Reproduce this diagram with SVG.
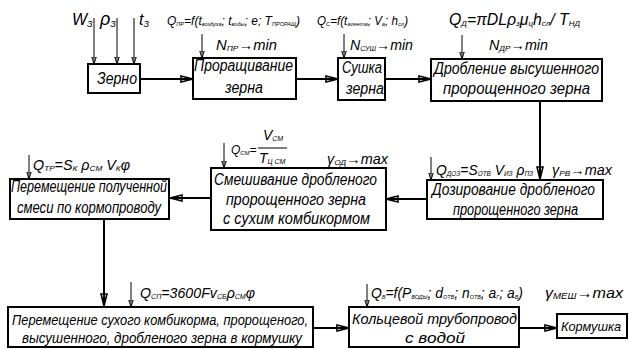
<svg xmlns="http://www.w3.org/2000/svg" width="629" height="349" viewBox="0 0 629 349">
<style>
.box{fill:#fff;stroke:#000;stroke-width:2}
.t{font-family:"Liberation Sans",Arial,sans-serif;font-style:italic;font-size:16px;fill:#000}
.p{font-family:"Liberation Sans",Arial,sans-serif;font-style:italic;fill:#000}
.main{fill:none;stroke:#000;stroke-width:2}
.thin{fill:none;stroke:#000;stroke-width:1}
</style>
<defs>
<marker id="big" viewBox="0 0 14 8" refX="13" refY="4" markerWidth="14" markerHeight="8" markerUnits="userSpaceOnUse" orient="auto">
<path d="M1,1 L13,4 L1,7 Z M1,4 L13,4" fill="none" stroke="#000" stroke-width="1.6"/>
</marker>
<marker id="sm" viewBox="0 0 8 6" refX="7.5" refY="3" markerWidth="8" markerHeight="6" markerUnits="userSpaceOnUse" orient="auto">
<path d="M0.5,0.8 L7.5,3 L0.5,5.2 Z" fill="none" stroke="#000" stroke-width="1"/>
</marker>
</defs>
<rect width="629" height="349" fill="#fff"/>

<g id="connectors">
<line class="main" x1="140" y1="79" x2="193" y2="79" marker-end="url(#big)"/>
<line class="main" x1="296" y1="79" x2="338" y2="79" marker-end="url(#big)"/>
<line class="main" x1="385" y1="79" x2="431" y2="79" marker-end="url(#big)"/>
<line class="main" x1="540" y1="101" x2="540" y2="179" marker-end="url(#big)"/>
<line class="main" x1="427" y1="199" x2="386" y2="199" marker-end="url(#big)"/>
<line class="main" x1="211" y1="198" x2="170" y2="198" marker-end="url(#big)"/>
<line class="main" x1="104" y1="219" x2="104" y2="306" marker-end="url(#big)"/>
<line class="main" x1="313" y1="328" x2="349" y2="328" marker-end="url(#big)"/>
<line class="main" x1="519" y1="328" x2="557" y2="328" marker-end="url(#big)"/>
<line class="thin" x1="94" y1="18" x2="94" y2="64" marker-end="url(#sm)"/>
<line class="thin" x1="117" y1="18" x2="117" y2="64" marker-end="url(#sm)"/>
<line class="thin" x1="134" y1="18" x2="134" y2="64" marker-end="url(#sm)"/>
<line class="thin" x1="202" y1="34" x2="202" y2="58" marker-end="url(#sm)"/>
<line class="thin" x1="344" y1="34" x2="344" y2="58" marker-end="url(#sm)"/>
<line class="thin" x1="462" y1="35" x2="462" y2="59" marker-end="url(#sm)"/>
<line class="thin" x1="29" y1="155" x2="29" y2="179" marker-end="url(#sm)"/>
<line class="thin" x1="224" y1="143" x2="224" y2="168" marker-end="url(#sm)"/>
<line class="thin" x1="431" y1="157" x2="431" y2="180" marker-end="url(#sm)"/>
<line class="thin" x1="131" y1="282" x2="131" y2="307" marker-end="url(#sm)"/>
<line class="thin" x1="367" y1="284" x2="367" y2="307" marker-end="url(#sm)"/>
</g>

<g id="zerno">
<rect class="box" x="88" y="64" width="52" height="29"/>
<text class="t" x="97" y="84" textLength="40" lengthAdjust="spacingAndGlyphs">Зерно</text>
</g>
<g id="prorashivanie">
<rect class="box" x="193" y="58" width="103" height="41"/>
<text class="t" x="194" y="71" textLength="99" lengthAdjust="spacingAndGlyphs">Проращивание</text>
<text class="t" x="225" y="93" textLength="38" lengthAdjust="spacingAndGlyphs">зерна</text>
</g>
<g id="sushka">
<rect class="box" x="338" y="58" width="47" height="42"/>
<text class="t" x="342" y="73" textLength="40" lengthAdjust="spacingAndGlyphs">Сушка</text>
<text class="t" x="346" y="94" textLength="38" lengthAdjust="spacingAndGlyphs">зерна</text>
</g>
<g id="droblenie">
<rect class="box" x="431" y="59" width="171" height="42"/>
<text class="t" x="434" y="74" textLength="165" lengthAdjust="spacingAndGlyphs">Дробление высушенного</text>
<text class="t" x="443" y="94" textLength="147" lengthAdjust="spacingAndGlyphs">пророщенного зерна</text>
</g>
<g id="dozirovanie">
<rect class="box" x="427" y="180" width="176" height="39"/>
<text class="t" x="432" y="195" textLength="163" lengthAdjust="spacingAndGlyphs">Дозирование дробленого</text>
<text class="t" x="453" y="215" textLength="125" lengthAdjust="spacingAndGlyphs">пророщенного зерна</text>
</g>
<g id="smeshivanie">
<rect class="box" x="211" y="168" width="175" height="62"/>
<text class="t" x="214" y="185" textLength="163" lengthAdjust="spacingAndGlyphs">Смешивание дробленого</text>
<text class="t" x="226" y="205" textLength="140" lengthAdjust="spacingAndGlyphs">пророщенного зерна</text>
<text class="t" x="223" y="224" textLength="147" lengthAdjust="spacingAndGlyphs">с сухим комбикормом</text>
</g>
<g id="peremeshenie1">
<rect class="box" x="10" y="179" width="159" height="40"/>
<text class="t" x="11" y="192" textLength="156" lengthAdjust="spacingAndGlyphs">Перемещение полученной</text>
<text class="t" x="17" y="213" textLength="144" lengthAdjust="spacingAndGlyphs">смеси по кормопроводу</text>
</g>
<g id="peremeshenie2">
<rect class="box" x="8" y="307" width="305" height="40"/>
<text class="t" x="12" y="325" style="font-size:15px" textLength="296" lengthAdjust="spacingAndGlyphs">Перемещение сухого комбикорма, пророщеного,</text>
<text class="t" x="22" y="343" style="font-size:15px" textLength="280" lengthAdjust="spacingAndGlyphs">высушенного, дробленого зерна  в кормушку</text>
</g>
<g id="truboprovod">
<rect class="box" x="349" y="307" width="170" height="40"/>
<text class="t" x="352" y="324" style="font-size:15px" textLength="165" lengthAdjust="spacingAndGlyphs">Кольцевой трубопровод</text>
<text class="t" x="405" y="343" style="font-size:15px" textLength="60" lengthAdjust="spacingAndGlyphs">с водой</text>
</g>
<g id="kormushka">
<rect class="box" x="557" y="314" width="70" height="24"/>
<text class="t" x="561" y="331" style="font-size:13px" textLength="60" lengthAdjust="spacingAndGlyphs">Кормушка</text>
</g>

<g id="labels">
<text class="p" x="72" y="25" style="font-size:16px">W<tspan style="font-size:9px" dy="2">З</tspan></text>
<text class="p" x="100" y="25" style="font-size:18px">ρ<tspan style="font-size:9px" dy="2">З</tspan></text>
<text class="p" x="139" y="25" style="font-size:16px">t<tspan style="font-size:9px" dy="2">З</tspan></text>
<text class="p" x="167" y="25" style="font-size:12px" textLength="133" lengthAdjust="spacingAndGlyphs">Q<tspan style="font-size:5.5px" dy="1">ПР</tspan><tspan dy="-1">=f(t</tspan><tspan style="font-size:5.5px" dy="1">воздуха</tspan><tspan dy="-1">; t</tspan><tspan style="font-size:5.5px" dy="1">воды</tspan><tspan dy="-1">; e; T</tspan><tspan style="font-size:5.5px" dy="1">ПРОРАЩ</tspan><tspan dy="-1">)</tspan></text>
<text class="p" x="317" y="25" style="font-size:12px" textLength="91" lengthAdjust="spacingAndGlyphs">Q<tspan style="font-size:6px" dy="1">C</tspan><tspan dy="-1">=f(t</tspan><tspan style="font-size:6px" dy="1">агента</tspan><tspan dy="-1">; V</tspan><tspan style="font-size:6px" dy="1">a</tspan><tspan dy="-1">; h</tspan><tspan style="font-size:6px" dy="1">сл</tspan><tspan dy="-1">)</tspan></text>
<text class="p" x="449" y="25" style="font-size:16px" textLength="131" lengthAdjust="spacingAndGlyphs">Q<tspan style="font-size:8px" dy="1">Д</tspan><tspan dy="-1">=πDLρ</tspan><tspan style="font-size:8px" dy="1">з</tspan><tspan dy="-1">μ</tspan><tspan style="font-size:8px" dy="1">ц</tspan><tspan dy="-1">h</tspan><tspan style="font-size:8px" dy="1">сл</tspan><tspan dy="-1">/ T</tspan><tspan style="font-size:8px" dy="1">НД</tspan></text>
<text class="p" x="216" y="50" style="font-size:14px" textLength="61" lengthAdjust="spacingAndGlyphs">N<tspan style="font-size:8px" dy="1">ПР</tspan><tspan dy="-1">→min</tspan></text>
<text class="p" x="350" y="50" style="font-size:14px" textLength="63" lengthAdjust="spacingAndGlyphs">N<tspan style="font-size:7px" dy="1">СУШ</tspan><tspan dy="-1">→min</tspan></text>
<text class="p" x="489" y="50" style="font-size:14px" textLength="59" lengthAdjust="spacingAndGlyphs">N<tspan style="font-size:8px" dy="1">ДР</tspan><tspan dy="-1">→min</tspan></text>
<text class="p" x="33" y="170" style="font-size:14px" textLength="97" lengthAdjust="spacingAndGlyphs">Q<tspan style="font-size:8px" dy="1">ТР</tspan><tspan dy="-1">=S</tspan><tspan style="font-size:8px" dy="1">К</tspan><tspan dy="-1"> ρ</tspan><tspan style="font-size:8px" dy="1">СМ</tspan><tspan dy="-1"> V</tspan><tspan style="font-size:8px" dy="1">К</tspan><tspan dy="-1">φ</tspan></text>
<text class="p" x="231" y="154" style="font-size:12px">Q<tspan style="font-size:6px" dy="1">СМ</tspan><tspan dy="-1">=</tspan></text>
<text class="p" x="263" y="140" style="font-size:14px">V<tspan style="font-size:7px" dy="1">СМ</tspan></text>
<line x1="258" y1="148" x2="287" y2="148" stroke="#000" stroke-width="1"/>
<text class="p" x="259" y="163" style="font-size:14px">T<tspan style="font-size:7px" dy="1">Ц СМ</tspan></text>
<text class="p" x="327" y="164" style="font-size:14px" textLength="61" lengthAdjust="spacingAndGlyphs">γ<tspan style="font-size:8px" dy="1">ОД</tspan><tspan dy="-1">→max</tspan></text>
<text class="p" x="436" y="175" style="font-size:14px" textLength="97" lengthAdjust="spacingAndGlyphs">Q<tspan style="font-size:6.5px" dy="1">ДОЗ</tspan><tspan dy="-1">=S</tspan><tspan style="font-size:6.5px" dy="1">ОТВ</tspan><tspan dy="-1"> V</tspan><tspan style="font-size:6.5px" dy="1">ИЗ</tspan><tspan dy="-1"> ρ</tspan><tspan style="font-size:6.5px" dy="1">ПЗ</tspan></text>
<text class="p" x="552" y="175" style="font-size:14px" textLength="60" lengthAdjust="spacingAndGlyphs">γ<tspan style="font-size:8px" dy="1">РВ</tspan><tspan dy="-1">→max</tspan></text>
<text class="p" x="140" y="298" style="font-size:14px" textLength="115" lengthAdjust="spacingAndGlyphs">Q<tspan style="font-size:7px" dy="1">СП</tspan><tspan dy="-1">=3600Fv</tspan><tspan style="font-size:7px" dy="1">СБ</tspan><tspan dy="-1">ρ</tspan><tspan style="font-size:7px" dy="1">СМ</tspan><tspan dy="-1">φ</tspan></text>
<text class="p" x="371" y="298" style="font-size:14px" textLength="152" lengthAdjust="spacingAndGlyphs">Q<tspan style="font-size:5.5px" dy="1">В</tspan><tspan dy="-1">=f(P</tspan><tspan style="font-size:5.5px" dy="1">ВОДЫ</tspan><tspan dy="-1">; d</tspan><tspan style="font-size:5.5px" dy="1">ОТВ</tspan><tspan dy="-1">; n</tspan><tspan style="font-size:5.5px" dy="1">ОТВ</tspan><tspan dy="-1">; a</tspan><tspan style="font-size:5.5px" dy="1">Г</tspan><tspan dy="-1">; a</tspan><tspan style="font-size:5.5px" dy="1">В</tspan><tspan dy="-1">)</tspan></text>
<text class="p" x="545" y="298" style="font-size:15px" textLength="78" lengthAdjust="spacingAndGlyphs">γ<tspan style="font-size:9px" dy="1">МЕШ</tspan><tspan dy="-1">→max</tspan></text>
</g>
</svg>
